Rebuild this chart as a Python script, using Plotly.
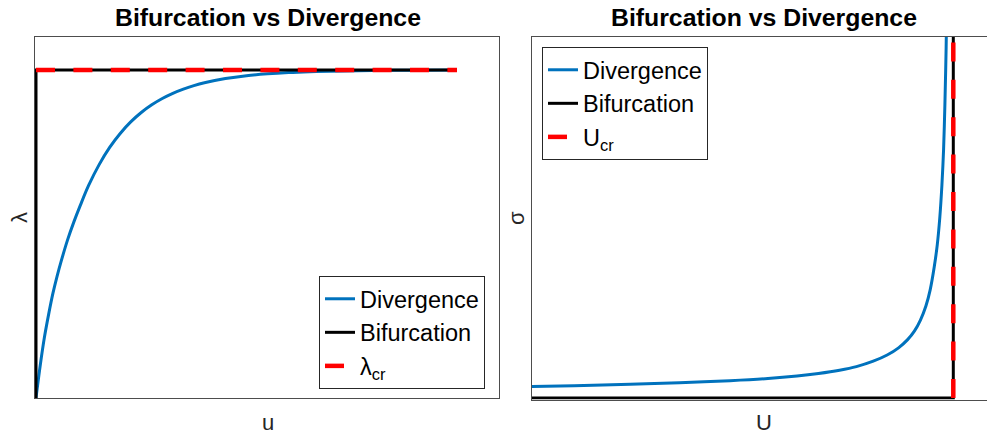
import plotly.graph_objects as go

# ---- data ----
u_vals = [0, 0.1, 0.2, 0.3, 0.4, 0.5, 0.6, 0.75, 0.9, 1.05, 1.25, 1.5, 1.75, 2.0, 2.25, 2.5, 2.75, 3.0,
          3.25, 3.5, 3.75, 4.0, 4.5, 5.0, 5.5, 6.0, 6.5, 7.0, 8.0, 9.0, 10.0]
lambda_vals = [0, 0.099, 0.185, 0.255, 0.318, 0.371, 0.418, 0.482, 0.537, 0.5865, 0.648, 0.7115, 0.764, 0.8066,
               0.8417, 0.8704, 0.8939, 0.9131, 0.9289, 0.9417, 0.9523, 0.9610, 0.9738, 0.9825, 0.9882, 0.9921,
               0.9947, 0.9965, 0.9984, 0.9993, 0.9997]
lambda_cr = 1.0
u_max = 10.0

U_vals = [0, 0.1, 0.233, 0.35, 0.47, 0.56, 0.629, 0.68, 0.73, 0.77, 0.81, 0.843, 0.87, 0.891, 0.908, 0.922,
          0.935, 0.945, 0.955, 0.962, 0.968, 0.973, 0.977, 0.980, 0.983, 0.988]
sigma_vals = [0.32, 0.34, 0.38, 0.42, 0.48, 0.54, 0.61, 0.68, 0.77, 0.87, 1.02, 1.19, 1.39, 1.61, 1.86, 2.16,
              2.55, 2.99, 3.65, 4.25, 5.0, 5.9, 6.9, 8.1, 9.7, 13.5]
U_cr = 1.0
sigma_top = 10.0

title_text = "Bifurcation vs Divergence"
legend_names_left = ["Divergence", "Bifurcation", "λ<sub>cr</sub>"]
legend_names_right = ["Divergence", "Bifurcation", "U<sub>cr</sub>"]

BLUE = "#0072BD"
RED = "#FF0000"
BLACK = "#000000"
AXC = "#4d4d4d"
FONT = "Liberation Sans, Arial, Helvetica, sans-serif"
W, H = 987, 436
DASH = "19px,18.4px"

fig = go.Figure()

# left subplot
fig.add_trace(go.Scatter(x=u_vals, y=lambda_vals, mode="lines", line=dict(color=BLUE, width=3, shape="spline", smoothing=1.0),
                         name=legend_names_left[0], xaxis="x", yaxis="y", legend="legend"))
fig.add_trace(go.Scatter(x=[0, 0, u_max], y=[0, lambda_cr, lambda_cr], mode="lines", line=dict(color=BLACK, width=3),
                         name=legend_names_left[1], xaxis="x", yaxis="y", legend="legend"))
fig.add_trace(go.Scatter(x=[0, u_max], y=[lambda_cr, lambda_cr], mode="lines", line=dict(color=RED, width=4.5, dash=DASH),
                         name=legend_names_left[2], xaxis="x", yaxis="y", legend="legend"))

# right subplot
fig.add_trace(go.Scatter(x=U_vals, y=sigma_vals, mode="lines", line=dict(color=BLUE, width=3, shape="spline", smoothing=0.8),
                         name=legend_names_right[0], xaxis="x2", yaxis="y2", legend="legend2"))
fig.add_trace(go.Scatter(x=[0, U_cr, U_cr], y=[0, 0, sigma_top], mode="lines", line=dict(color=BLACK, width=3),
                         name=legend_names_right[1], xaxis="x2", yaxis="y2", legend="legend2"))
fig.add_trace(go.Scatter(x=[U_cr, U_cr], y=[0, sigma_top], mode="lines", line=dict(color=RED, width=4.5, dash=DASH),
                         name=legend_names_right[2], xaxis="x2", yaxis="y2", legend="legend2"))

ax_common = dict(showgrid=False, zeroline=False, showticklabels=False, ticks="", showline=True,
                 linecolor=AXC, linewidth=1, fixedrange=True)

yb_left = 398
ytop = 37
yb_right = 399.5

fig.update_layout(
    width=W, height=H,
    margin=dict(l=0, r=0, t=0, b=0),
    paper_bgcolor="white", plot_bgcolor="white",
    font=dict(family=FONT, color=BLACK),
    xaxis=dict(domain=[34.5 / W, 499 / W], range=[-0.0356, 10.998], mirror=True, **ax_common),
    yaxis=dict(domain=[(H - yb_left) / H, (H - ytop) / H], range=[0, 1.1006], mirror=True, anchor="x", **ax_common),
    xaxis2=dict(domain=[532 / W, 1.0], range=[0, 1.080], mirror=True, anchor="y2", **ax_common),
    yaxis2=dict(domain=[(H - yb_right) / H, (H - ytop) / H], range=[-0.0416, 10.0], mirror=False, anchor="x2", **ax_common),
    legend=dict(x=319 / W, y=(H - 276) / H, xanchor="left", yanchor="top", bgcolor="white",
                bordercolor="#262626", borderwidth=1, font=dict(family=FONT, size=23.5, color=BLACK),
                itemwidth=30, tracegroupgap=0),
    legend2=dict(x=542 / W, y=(H - 47) / H, xanchor="left", yanchor="top", bgcolor="white",
                 bordercolor="#262626", borderwidth=1, font=dict(family=FONT, size=23.5, color=BLACK),
                 itemwidth=30, tracegroupgap=0),
    showlegend=True,
)

annots = [
    dict(text="<b>" + title_text + "</b>", x=267.5 / W, y=(H - 18) / H, font=dict(size=24.8)),
    dict(text="<b>" + title_text + "</b>", x=763.5 / W, y=(H - 18) / H, font=dict(size=24.8)),
    dict(text="u", x=267.5 / W, y=(H - 422) / H, font=dict(size=22, color="#262626")),
    dict(text="U", x=763.5 / W, y=(H - 422) / H, font=dict(size=22, color="#262626")),
    dict(text="λ", x=19 / W, y=(H - 218) / H, textangle=-90, font=dict(size=22, color="#262626")),
    dict(text="σ", x=516 / W, y=(H - 218) / H, textangle=-90, font=dict(size=22, color="#262626")),
]
for a in annots:
    fig.add_annotation(xref="paper", yref="paper", xanchor="center", yanchor="middle", showarrow=False,
                       font_family=FONT, **{k: v for k, v in a.items()})

fig.write_html("out.html")
